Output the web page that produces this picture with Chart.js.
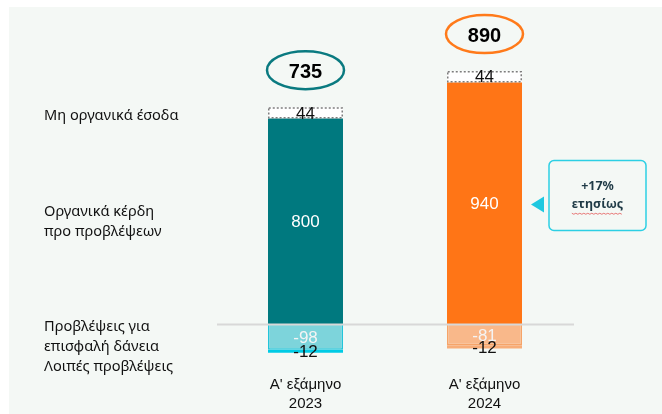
<!DOCTYPE html>
<html>
<head>
<meta charset="utf-8">
<script src="https://cdn.jsdelivr.net/npm/chart.js@4.4.1/dist/chart.umd.min.js"></script>
<style>
  html, body { margin: 0; padding: 0; background: #fff; overflow: hidden; }
  canvas { display: block; }
</style>
</head>
<body>
<canvas id="chart" width="662" height="414"></canvas>
<script>
// half-year periods
const categories = [["Α' εξάμηνο", "2023"], ["Α' εξάμηνο", "2024"]];
const organicProfit = [800, 940];
const nonOrganicIncome = [44, 44];
const loanProvisions = [-98, -81];
const otherProvisions = [-12, -12];
const totals = [735, 890];
const growthLabel = ["+17%", "ετησίως"];
const rowLabels = {
  nonOrganic: ["Μη οργανικά έσοδα"],
  organic: ["Οργανικά κέρδη", "προ προβλέψεων"],
  provisions: ["Προβλέψεις για", "επισφαλή δάνεια", "Λοιπές προβλέψεις"]
};

const numFont = '17px "Liberation Sans", Arial, sans-serif';
const labelFont = '14.6px "Noto Sans", "DejaVu Sans", sans-serif';

const decor = {
  id: 'decor',
  beforeDraw(chart) {
    const ctx = chart.ctx;
    ctx.save();
    ctx.fillStyle = '#f4f8f5';
    ctx.fillRect(9, 7, chart.width - 9, chart.height - 7);
    ctx.restore();
  },
  afterDatasetsDraw(chart) {
    const ctx = chart.ctx;
    const { x, y } = chart.scales;
    const area = chart.chartArea;
    ctx.save();

    // dotted box for non-organic income
    const dotMeta = chart.getDatasetMeta(1);
    dotMeta.data.forEach(bar => {
      const w = bar.width;
      ctx.strokeStyle = '#7d7d7d';
      ctx.lineWidth = 1.5;
      ctx.setLineDash([2, 2]);
      ctx.strokeRect(bar.x - w / 2 + 0.75, bar.y + 0.75, w - 1.5, bar.base - bar.y - 1.5);
      ctx.setLineDash([]);
    });

    // zero line
    const y0 = y.getPixelForValue(0);
    ctx.strokeStyle = '#d8d8d8';
    ctx.lineWidth = 2;
    ctx.beginPath();
    ctx.moveTo(area.left + 1, y0);
    ctx.lineTo(area.right, y0);
    ctx.stroke();

    // segment values
    ctx.textAlign = 'center';
    ctx.textBaseline = 'middle';
    ctx.font = numFont;
    const textColors = ['#ffffff', '#111111', '#f4f4f4', '#111111'];
    chart.data.datasets.forEach((ds, di) => {
      const meta = chart.getDatasetMeta(di);
      meta.data.forEach((bar, i) => {
        ctx.fillStyle = textColors[di];
        const cy = (bar.y + bar.base) / 2;
        ctx.fillText(String(ds.data[i]), bar.x, cy + 1);
      });
    });

    // totals in ellipses
    const ringColors = ['#0a7a80', '#ff7a1a'];
    dotMeta.data.forEach((bar, i) => {
      const cy = bar.y - 37;
      ctx.strokeStyle = ringColors[i];
      ctx.lineWidth = 2.5;
      ctx.beginPath();
      ctx.ellipse(bar.x, cy, 38.5, 19, 0, 0, Math.PI * 2);
      ctx.stroke();
      ctx.fillStyle = '#000';
      ctx.font = 'bold 20px "Liberation Sans", Arial, sans-serif';
      ctx.fillText(String(totals[i]), bar.x, cy + 2);
    });

    // x labels
    ctx.font = '15px "Liberation Sans", Arial, sans-serif';
    ctx.fillStyle = '#111';
    categories.forEach((lines, i) => {
      const cx = x.getPixelForValue(i);
      lines.forEach((t, k) => ctx.fillText(t, cx, 385 + k * 19));
    });

    // row labels on the left
    const m0 = chart.getDatasetMeta(0).data[0];
    const m1 = chart.getDatasetMeta(1).data[0];
    const m2 = chart.getDatasetMeta(2).data[0];
    ctx.textAlign = 'left';
    ctx.font = labelFont;
    ctx.fillStyle = '#111111';
    const lx = 44;
    const drawRows = (lines, cy) => {
      lines.forEach((t, k) => ctx.fillText(t, lx, cy + k * 20));
    };
    drawRows(rowLabels.nonOrganic, (m1.y + m1.base) / 2 + 3);
    drawRows(rowLabels.organic, (m0.y + m0.base) / 2 - 10);
    drawRows(rowLabels.provisions, (m2.y + m2.base) / 2 - 10);

    // growth callout
    const b2 = chart.getDatasetMeta(0).data[1];
    const cy = (b2.y + b2.base) / 2 + 1;
    const bx = b2.x + b2.width / 2 + 27;
    const bw = 97, bh = 70;
    ctx.fillStyle = '#1ec8e0';
    ctx.beginPath();
    ctx.moveTo(bx - 18, cy);
    ctx.lineTo(bx - 5, cy - 8);
    ctx.lineTo(bx - 5, cy + 8);
    ctx.closePath();
    ctx.fill();
    ctx.strokeStyle = '#2ccfe4';
    ctx.lineWidth = 1.5;
    ctx.beginPath();
    ctx.roundRect(bx, cy - bh / 2 - 9, bw, bh, 5);
    ctx.stroke();
    ctx.textAlign = 'center';
    ctx.fillStyle = '#1f3a46';
    ctx.font = 'bold 12.5px "Noto Sans", "DejaVu Sans", sans-serif';
    ctx.fillText(growthLabel[0], bx + bw / 2, cy - 18);
    ctx.fillText(growthLabel[1], bx + bw / 2, cy);
    // spell-check squiggle
    const tw = ctx.measureText(growthLabel[1]).width;
    ctx.strokeStyle = '#e87878';
    ctx.lineWidth = 1;
    ctx.beginPath();
    for (let sx = 0; sx <= tw; sx += 2) {
      const px = bx + bw / 2 - tw / 2 + sx;
      const py = cy + 9 + ((sx / 2) % 2 ? 0.8 : -0.2);
      if (sx === 0) ctx.moveTo(px, py); else ctx.lineTo(px, py);
    }
    ctx.stroke();

    ctx.restore();
  }
};

new Chart(document.getElementById('chart'), {
  type: 'bar',
  data: {
    labels: categories,
    datasets: [
      {
        label: 'Οργανικά κέρδη προ προβλέψεων',
        data: organicProfit,
        backgroundColor: ['#00797f', '#ff7516'],
        stack: 's'
      },
      {
        label: 'Μη οργανικά έσοδα',
        data: nonOrganicIncome,
        backgroundColor: '#ffffff',
        stack: 's'
      },
      {
        label: 'Προβλέψεις για επισφαλή δάνεια',
        data: loanProvisions,
        backgroundColor: ['#7dd4db', '#f9b88a'],
        borderColor: ['#22c5da', '#f6a468'],
        borderWidth: 1.5,
        stack: 's'
      },
      {
        label: 'Λοιπές προβλέψεις',
        data: otherProvisions,
        backgroundColor: ['#00cbe5', '#f8ad78'],
        stack: 's'
      }
    ]
  },
  options: {
    responsive: false,
    animation: false,
    devicePixelRatio: 1,
    layout: { padding: { left: 216, right: 88, top: 15.5, bottom: 50.9 } },
    datasets: { bar: { categoryPercentage: 1, barPercentage: 75 / 179 } },
    plugins: { legend: { display: false }, tooltip: { enabled: false } },
    scales: {
      x: { display: false, stacked: true },
      y: { display: false, stacked: true, min: -150, max: 1200 }
    }
  },
  plugins: [decor]
});
</script>
</body>
</html>
